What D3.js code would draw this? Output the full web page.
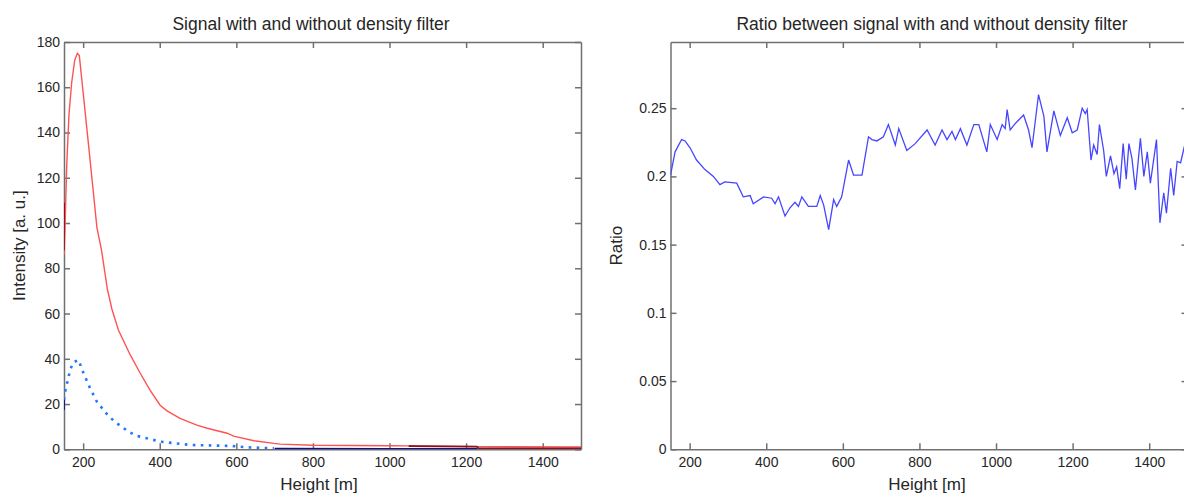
<!DOCTYPE html>
<html lang="en">

<head>
  <meta charset="UTF-8">
  <title>Signal and ratio</title>
  <style>
    html,
    body {
      margin: 0;
      background: #fff;
    }

    svg text {
      font-family: "Liberation Sans", Arial, sans-serif;
      fill: #262626;
    }

    .axis path,
    .axis line {
      stroke: #707070;
      stroke-width: 1.5;
    }
  </style>
</head>

<body>
  <div id="main"></div>

  <script src="https://cdnjs.cloudflare.com/ajax/libs/d3/7.8.5/d3.min.js"></script>

  <script>
    // tick labels
    const heightTicks = [200, 400, 600, 800, 1000, 1200, 1400]
    const intensityTicks = [0, 20, 40, 60, 80, 100, 120, 140, 160, 180]
    const ratioTicks = [0, 0.05, 0.1, 0.15, 0.2, 0.25]

    // left plot: signal without filter (light red)
    const redHeights = [150, 153, 157, 163, 170, 178, 185, 190, 201, 215, 236, 248, 263, 275, 292, 323, 349, 375, 401, 419, 453, 497, 524, 576, 593, 646, 698, 715, 800, 900, 1000, 1050, 1230, 1500]
    const redValues = [86, 100, 125, 148, 162, 172, 175, 174, 156, 133, 98, 88, 71, 62, 52.7, 41.7, 33.6, 26, 19.5, 17, 13.7, 10.7, 9.3, 7.1, 5.8, 3.8, 2.6, 2.3, 1.8, 1.7, 1.6, 1.5, 1.2, 1.0]

    // left plot: signal with filter (dotted blue)
    const blueHeights = [150, 153, 157, 166, 174, 188, 200, 218, 236, 266, 288, 301, 318, 340, 349, 401, 480, 584, 628, 698]
    const blueValues = [22, 25.5, 28.4, 35, 38.4, 39.5, 34, 27, 21, 14.7, 11.5, 10, 7.8, 5.9, 5.6, 3.4, 1.9, 1.5, 0.9, 0.4]

    // left plot: dark traces close to the axes
    const darkBlueHeights = [150, 150.5, NaN, 700, 1000, 1230]
    const darkBlueValues = [17.4, 22.5, NaN, 0.3, 0.25, 0.25]
    const darkRedHeights = [150, 150.5, NaN, 1050, 1228, 1232, 1500]
    const darkRedValues = [88, 109, NaN, 1.4, 1.2, 0.5, 0.4]

    // right plot: ratio
    const ratioHeights = [150, 162, 179, 188, 201, 218, 240, 262, 279, 292, 323, 340, 358, 366, 393, 414, 423, 432, 449, 462, 475, 484, 493, 510, 532, 541, 550, 563, 576, 584, 597, 615, 628, 650, 667, 676, 689, 706, 719, 737, 746, 767, 789, 820, 841, 859, 872, 885, 894, 907, 924, 942, 955, 976, 985, 1003, 1016, 1024, 1029, 1037, 1051, 1072, 1085, 1094, 1111, 1125, 1133, 1151, 1168, 1186, 1199, 1212, 1225, 1233, 1238, 1248, 1255, 1264, 1270, 1281, 1288, 1299, 1308, 1315, 1323, 1332, 1340, 1347, 1355, 1364, 1377, 1386, 1395, 1403, 1419, 1428, 1438, 1445, 1456, 1464, 1473, 1482, 1491, 1500]
    const ratioValues = [0.201, 0.218, 0.227, 0.226, 0.221, 0.212, 0.205, 0.2, 0.194, 0.196, 0.195, 0.185, 0.186, 0.18, 0.185, 0.184, 0.18, 0.185, 0.171, 0.177, 0.181, 0.178, 0.185, 0.178, 0.178, 0.186, 0.179, 0.161, 0.183, 0.178, 0.185, 0.212, 0.201, 0.201, 0.229, 0.227, 0.226, 0.229, 0.238, 0.223, 0.235, 0.219, 0.224, 0.234, 0.223, 0.234, 0.227, 0.233, 0.227, 0.235, 0.223, 0.238, 0.238, 0.218, 0.238, 0.227, 0.238, 0.235, 0.249, 0.234, 0.239, 0.245, 0.234, 0.221, 0.26, 0.244, 0.218, 0.248, 0.23, 0.243, 0.232, 0.234, 0.25, 0.246, 0.249, 0.212, 0.223, 0.216, 0.238, 0.219, 0.2, 0.215, 0.202, 0.207, 0.191, 0.224, 0.198, 0.224, 0.213, 0.19, 0.228, 0.2, 0.218, 0.195, 0.227, 0.166, 0.188, 0.173, 0.206, 0.186, 0.211, 0.21, 0.221, 0.215]

    const W = 1184
    const H = 495
    const svg = d3.select('#main').append('svg').attr('width', W).attr('height', H)

    function panel(opt) {
      const x = d3.scaleLinear().domain([150, 1500]).range([opt.left, opt.right])
      const y = d3.scaleLinear().domain(opt.yDomain).range([449.3, 42])
      const g = svg.append('g')

      // box
      g.append('rect')
        .attr('x', opt.left).attr('y', 42)
        .attr('width', opt.right - opt.left).attr('height', 449.3 - 42)
        .attr('fill', '#fff')

      const bottom = g.append('g').attr('class', 'axis')
        .attr('transform', `translate(0,${449.3})`)
        .call(d3.axisBottom(x).tickValues(heightTicks).tickSize(-6).tickSizeOuter(0).tickPadding(8).tickFormat(d3.format('d')))
      const top = g.append('g').attr('class', 'axis')
        .attr('transform', 'translate(0,42)')
        .call(d3.axisTop(x).tickValues(heightTicks).tickSize(-6).tickSizeOuter(0).tickFormat(''))
      const left = g.append('g').attr('class', 'axis')
        .attr('transform', `translate(${opt.left},0)`)
        .call(d3.axisLeft(y).tickValues(opt.yTicks).tickSize(-6).tickSizeOuter(0).tickPadding(4).tickFormat(d3.format('~g')))
      const right = g.append('g').attr('class', 'axis')
        .attr('transform', `translate(${opt.right},0)`)
        .call(d3.axisRight(y).tickValues(opt.yTicks).tickSize(-6).tickSizeOuter(0).tickFormat(''))

      g.selectAll('.axis text').attr('font-size', 14).attr('fill', '#262626')

      // clip
      const clipId = 'clip' + opt.left
      g.append('clipPath').attr('id', clipId)
        .append('rect')
        .attr('x', opt.left).attr('y', 42)
        .attr('width', opt.right - opt.left).attr('height', 449.3 - 42)

      const plot = g.append('g').attr('clip-path', `url(#${clipId})`)
      opt.series.forEach(s => {
        const pts = s.xs.map((h, i) => [h, s.ys[i]])
        const line = d3.line()
          .defined(d => !isNaN(d[0]) && !isNaN(d[1]))
          .x(d => x(d[0]))
          .y(d => y(d[1]))
        plot.append('path')
          .datum(pts)
          .attr('fill', 'none')
          .attr('stroke', s.color)
          .attr('stroke-width', s.width)
          .attr('stroke-dasharray', s.dash || null)
          .attr('d', line)
      })

      // titles and labels
      g.append('text')
        .attr('x', opt.titleX).attr('y', 29.5)
        .attr('text-anchor', 'middle')
        .attr('font-size', 17.5)
        .text(opt.title)
      g.append('text')
        .attr('x', opt.xLabelX).attr('y', 490)
        .attr('text-anchor', 'middle')
        .attr('font-size', 17)
        .text('Height [m]')
      g.append('text')
        .attr('transform', `translate(${opt.yLabelX},245.6) rotate(-90)`)
        .attr('text-anchor', 'middle')
        .attr('font-size', 17)
        .text(opt.yLabel)
    }

    panel({
      left: 64,
      right: 581,
      yDomain: [0, 180],
      yTicks: intensityTicks,
      title: 'Signal with and without density filter',
      titleX: 311,
      xLabelX: 319,
      yLabel: 'Intensity [a. u.]',
      yLabelX: 25,
      series: [
        { xs: darkBlueHeights, ys: darkBlueValues, color: '#10108a', width: 1.6 },
        { xs: redHeights, ys: redValues, color: '#ff5252', width: 1.4 },
        { xs: darkRedHeights, ys: darkRedValues, color: '#8a1020', width: 1.6 },
        { xs: blueHeights, ys: blueValues, color: '#1f78ff', width: 2.6, dash: '2.6 5.4' }
      ]
    })

    panel({
      left: 670.5,
      right: 1187.5,
      yDomain: [0, 0.2985],
      yTicks: ratioTicks,
      title: 'Ratio between signal with and without density filter',
      titleX: 932,
      xLabelX: 927,
      yLabel: 'Ratio',
      yLabelX: 622,
      series: [
        { xs: ratioHeights, ys: ratioValues, color: '#4646ff', width: 1.3 }
      ]
    })
  </script>
</body>

</html>
